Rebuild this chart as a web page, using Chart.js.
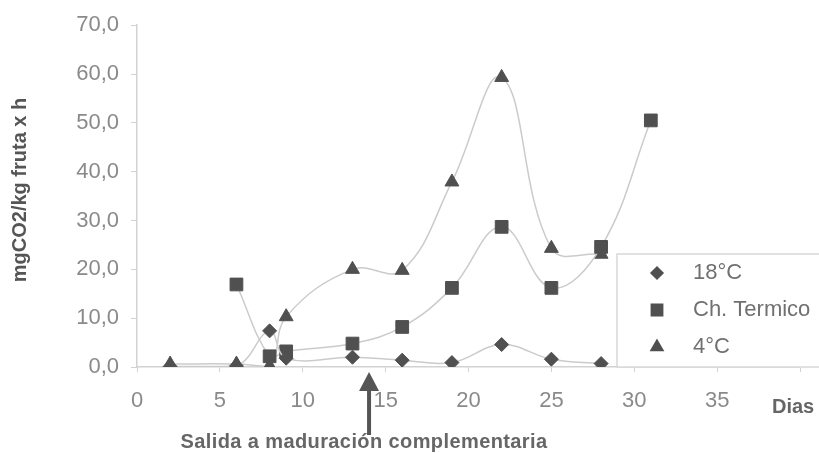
<!DOCTYPE html>
<html>
<head>
<meta charset="utf-8">
<script src="https://cdn.jsdelivr.net/npm/chart.js@4.4.1/dist/chart.umd.min.js"></script>
<style>
  html, body { margin: 0; padding: 0; background: #fff; }
  #wrap { width: 819px; height: 453px; position: relative; }
</style>
</head>
<body>
<div id="wrap"><canvas id="myChart" width="819" height="453"></canvas></div>
<script>
// ___________ data ___________ //
const days18 = [2, 6, 8, 9, 13, 16, 19, 22, 25, 28];
const vals18 = [0.1, 0.2, 7.4, 1.8, 2.0, 1.4, 0.9, 4.6, 1.6, 0.7];

const daysCh = [6, 8, 9, 13, 16, 19, 22, 25, 28, 31];
const valsCh = [16.9, 2.2, 3.2, 4.8, 8.2, 16.2, 28.7, 16.2, 24.6, 50.5];

const days4 = [2, 6, 8, 9, 13, 16, 19, 22, 25, 28];
const vals4 = [0.6, 0.6, 0.2, 10.3, 20.0, 19.8, 37.9, 59.3, 24.3, 23.1];

const seriesNames = ["18°C", "Ch. Termico", "4°C"];
const yTicks = [0, 10, 20, 30, 40, 50, 60, 70];
const xTicks = [0, 5, 10, 15, 20, 25, 30, 35];
const arrowDay = 14;

// ___________ styles ___________ //
const markColor = "#505050";
const lineColor = "#cbcbcb";
const tickColor = "#8a8a8a";
const axisColor = "#d2d2d2";
const FONT = "'Liberation Sans', Arial, sans-serif";

function pts(xs, ys) {
  return xs.map(function (d, i) { return { x: d, y: ys[i] }; });
}

function makeSet(label, data, style, radius) {
  return {
    label: label,
    data: data,
    pointStyle: style,
    pointRadius: radius,
    pointHoverRadius: radius,
    pointBackgroundColor: markColor,
    pointBorderColor: markColor,
    pointBorderWidth: 1,
    borderColor: lineColor,
    borderWidth: 1.5,
    tension: 0.4,
    fill: false,
  };
}

// ___________ extra drawing (legend box, labels, arrow) ___________ //
const extras = {
  id: "extras",
  afterDraw: function (chart) {
    const ctx = chart.ctx;
    const x = chart.scales.x;
    ctx.save();

    // y title
    ctx.translate(20, 190);
    ctx.rotate(-Math.PI / 2);
    ctx.fillStyle = "#555";
    ctx.font = "bold 20px " + FONT;
    ctx.textAlign = "center";
    ctx.textBaseline = "middle";
    ctx.fillText("mgCO2/kg fruta x h", 0, 0);
    ctx.restore();

    ctx.save();
    // Dias
    ctx.fillStyle = "#666";
    ctx.font = "bold 20px " + FONT;
    ctx.textAlign = "left";
    ctx.textBaseline = "middle";
    ctx.fillText("Dias", 772, 407);

    // arrow
    const ax = x.getPixelForValue(arrowDay);
    ctx.fillStyle = "#555";
    ctx.fillRect(ax - 2, 388, 4, 47);
    ctx.beginPath();
    ctx.moveTo(ax, 372);
    ctx.lineTo(ax + 10, 391);
    ctx.lineTo(ax - 10, 391);
    ctx.closePath();
    ctx.fill();

    // annotation
    ctx.fillStyle = "#666";
    ctx.font = "bold 20px " + FONT;
    ctx.textAlign = "center";
    if ("letterSpacing" in ctx) ctx.letterSpacing = "0.4px";
    ctx.fillText("Salida a maduración complementaria", 364, 442);
    if ("letterSpacing" in ctx) ctx.letterSpacing = "0px";

    // legend box
    ctx.fillStyle = "#fff";
    ctx.fillRect(617, 254, 210, 113);
    ctx.strokeStyle = "#d8d8d8";
    ctx.lineWidth = 1.5;
    ctx.strokeRect(617, 254, 210, 113);
    const rowsY = [273, 310, 347];
    chart.data.datasets.forEach(function (ds, i) {
      ctx.fillStyle = markColor;
      ctx.strokeStyle = markColor;
      Chart.helpers.drawPoint(ctx, {
        pointStyle: ds.pointStyle,
        radius: ds.pointRadius - 1,
        borderWidth: 1,
        rotation: 0,
      }, 657, rowsY[i]);
      ctx.fillStyle = "#707070";
      ctx.font = "22px " + FONT;
      ctx.textAlign = "left";
      ctx.textBaseline = "middle";
      ctx.fillText(ds.label, 693, rowsY[i]);
    });
    ctx.restore();
  },
};

const ctx = document.getElementById("myChart").getContext("2d");
const myChart = new Chart(ctx, {
  type: "line",
  data: {
    datasets: [
      makeSet(seriesNames[0], pts(days18, vals18), "rectRot", 7),
      makeSet(seriesNames[1], pts(daysCh, valsCh), "rect", 9),
      makeSet(seriesNames[2], pts(days4, vals4), "triangle", 8),
    ],
  },
  options: {
    responsive: false,
    animation: false,
    layout: { padding: { top: 23, right: 19, left: 0, bottom: 0 } },
    plugins: {
      legend: { display: false },
      tooltip: { enabled: false },
    },
    scales: {
      x: {
        type: "linear",
        min: 0,
        max: 40,
        afterBuildTicks: function (scale) {
          scale.ticks = xTicks.concat([40]).map(function (v) { return { value: v }; });
        },
        afterFit: function (scale) { scale.height = 86; },
        grid: { display: true, drawOnChartArea: false, tickLength: 5, color: axisColor },
        border: { color: axisColor, width: 1.5 },
        ticks: {
          padding: 16,
          color: tickColor,
          font: { family: FONT, size: 22 },
          maxRotation: 0,
          callback: function (v) { return v === 40 ? "" : v; },
        },
      },
      y: {
        min: 0,
        max: 70,
        afterBuildTicks: function (scale) {
          scale.ticks = yTicks.map(function (v) { return { value: v }; });
        },
        afterFit: function (scale) { scale.width = 137; },
        grid: { display: true, drawOnChartArea: false, tickLength: 6, color: axisColor },
        border: { color: axisColor, width: 1.5 },
        ticks: {
          padding: 12,
          color: tickColor,
          font: { family: FONT, size: 22 },
          callback: function (v) { return v.toFixed(1).replace(".", ","); },
        },
      },
    },
  },
  plugins: [extras],
});
</script>
</body>
</html>
